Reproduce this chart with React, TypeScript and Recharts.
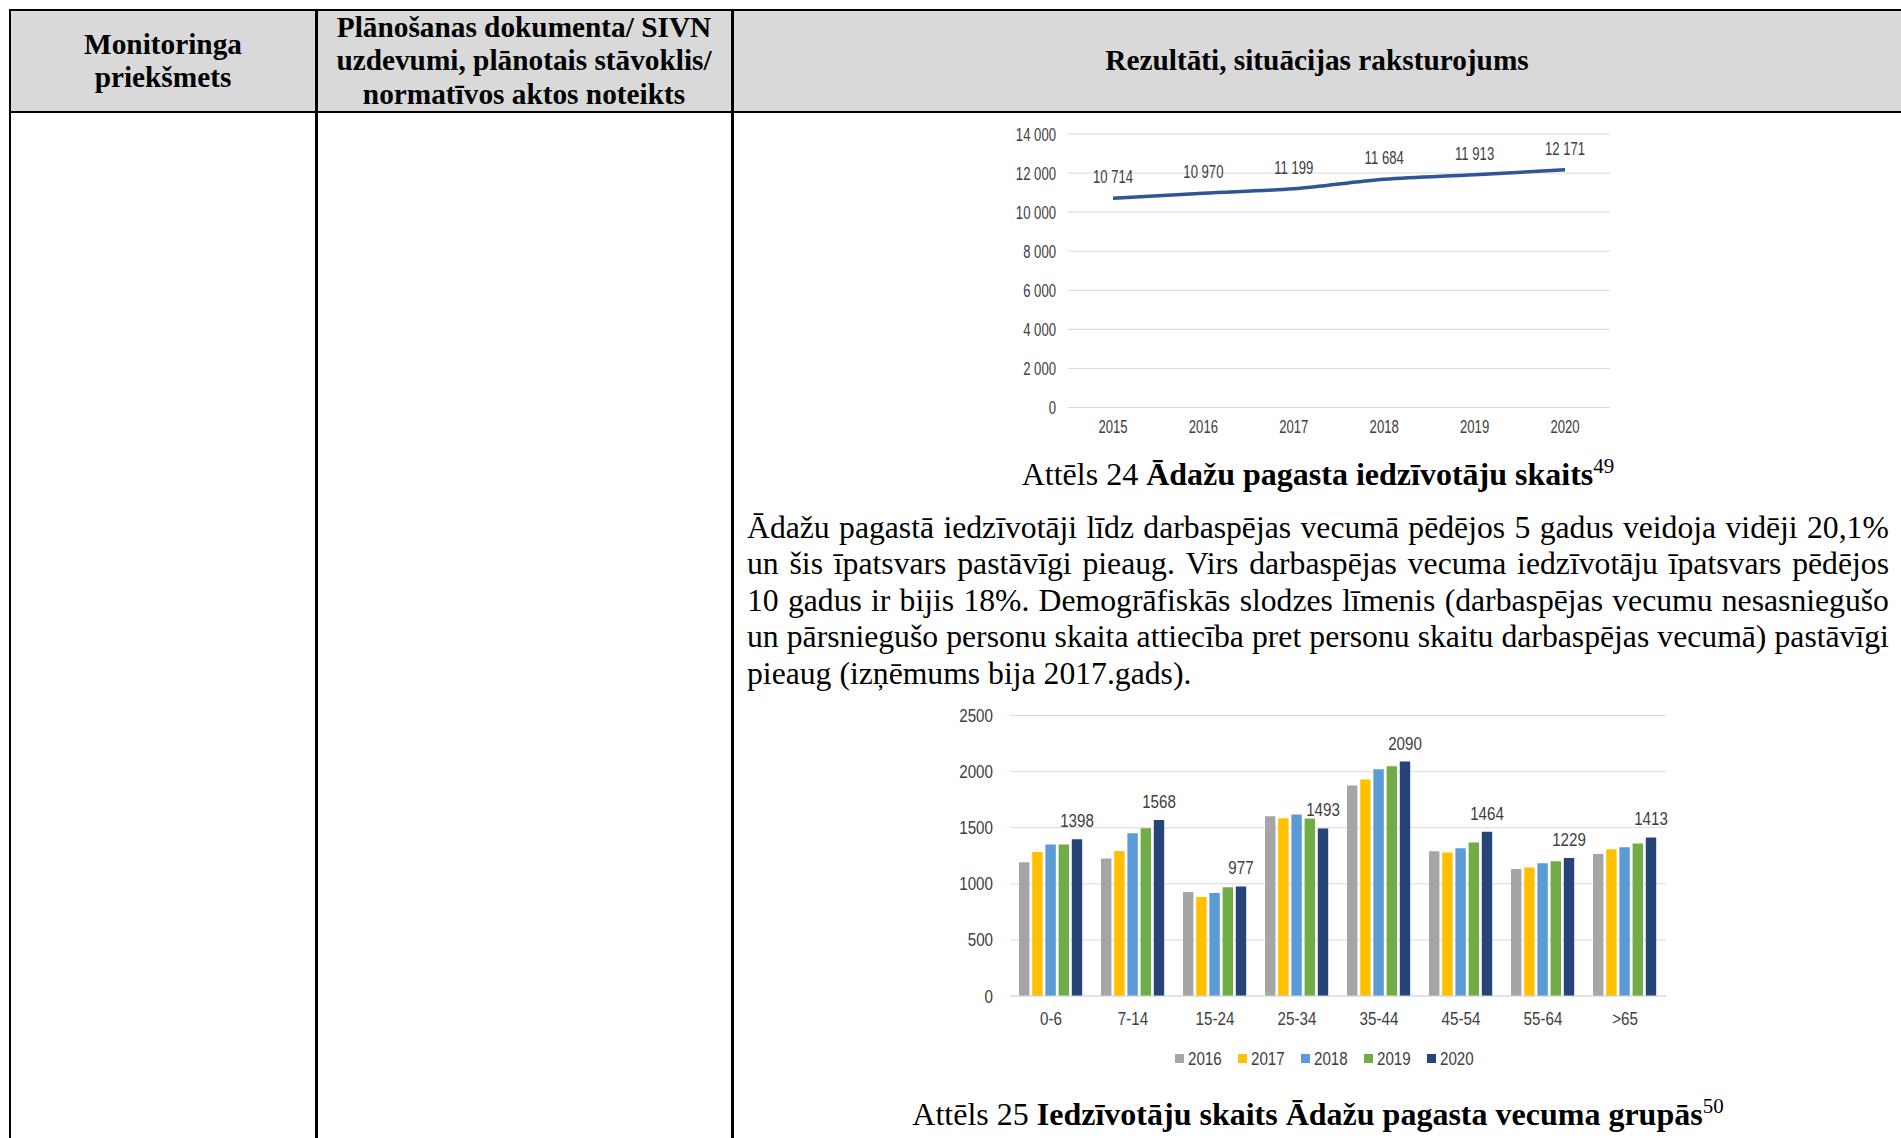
import React from 'react';
import { LineChart, Line, XAxis, YAxis, CartesianGrid, LabelList, BarChart, Bar, Legend } from 'recharts';

// ---- Chart 1: residents of Ādaži parish ----
const years = ['2015', '2016', '2017', '2018', '2019', '2020'];
const residents = [10714, 10970, 11199, 11684, 11913, 12171];
const lineTicks = [0, 2000, 4000, 6000, 8000, 10000, 12000, 14000];

// ---- Chart 2: residents by age group ----
const ageGroups = ['0-6', '7-14', '15-24', '25-34', '35-44', '45-54', '55-64', '>65'];
const v2016 = [1193, 1226, 928, 1602, 1876, 1289, 1131, 1265];
const v2017 = [1283, 1292, 883, 1584, 1930, 1280, 1146, 1307];
const v2018 = [1351, 1450, 919, 1617, 2020, 1316, 1184, 1325];
const v2019 = [1351, 1495, 970, 1581, 2047, 1369, 1202, 1360];
const v2020 = [1398, 1568, 977, 1493, 2090, 1464, 1229, 1413];
const barTicks = [0, 500, 1000, 1500, 2000, 2500];
const barYears = ['2016', '2017', '2018', '2019', '2020'];
const barColors = ['#A5A5A5', '#FFC000', '#5B9BD5', '#70AD47', '#264478'];

const lineData = years.map((y, i) => ({ year: y, v: residents[i] }));
const barSeries = [v2016, v2017, v2018, v2019, v2020];
const barData = ageGroups.map((g, i) => {
  const row: Record<string, string | number> = { group: g };
  barYears.forEach((y, k) => {
    row[y] = barSeries[k][i];
  });
  return row;
});

const SANS = "'Liberation Sans', Arial, sans-serif";
const SERIF = "'Liberation Serif', 'Times New Roman', serif";
const TXT = '#404040';
const GRID = '#D9D9D9';

const fmt = (n: number) => String(n).replace(/\B(?=(\d{3})+(?!\d))/g, ' ');

const paraLines = [
  'Ādažu pagastā iedzīvotāji līdz darbaspējas vecumā pēdējos 5 gadus veidoja vidēji 20,1%',
  'un šis īpatsvars pastāvīgi pieaug. Virs darbaspējas vecuma iedzīvotāju īpatsvars pēdējos',
  '10 gadus ir bijis 18%. Demogrāfiskās slodzes līmenis (darbaspējas vecumu nesasniegušo',
  'un pārsniegušo personu skaita attiecība pret personu skaitu darbaspējas vecumā) pastāvīgi',
  'pieaug (izņēmums bija 2017.gads).',
];

// narrow text: Arial metrics compressed horizontally (like the condensed chart bitmap)
const NText = ({ x, y, text, size, sx, anchor, dy }: { x: number; y: number; text: string; size: number; sx: number; anchor: 'start' | 'middle' | 'end'; dy: string }) => (
  <g transform={`translate(${x},${y}) scale(${sx},1)`}>
    <text x={0} y={0} dy={dy} textAnchor={anchor} fontFamily={SANS} fontSize={size} fill={TXT}>{text}</text>
  </g>
);

const LineXTick = (p: any) => <NText x={p.x} y={p.y} text={String(p.payload.value)} size={18.5} sx={0.71} anchor="middle" dy="0.71em" />;
const LineYTick = (p: any) => <NText x={p.x} y={p.y} text={fmt(Number(p.payload.value))} size={18.5} sx={0.71} anchor="end" dy="0.355em" />;
const LineLabel = (p: any) => <NText x={p.x} y={p.y - 15} text={fmt(Number(p.value))} size={18.5} sx={0.71} anchor="middle" dy="0" />;

const BarXTick = (p: any) => <NText x={p.x} y={p.y} text={String(p.payload.value)} size={18.5} sx={0.82} anchor="middle" dy="0.71em" />;
const BarYTick = (p: any) => <NText x={p.x} y={p.y} text={String(p.payload.value)} size={18.5} sx={0.82} anchor="end" dy="0.355em" />;
const BarLabel = (p: any) => <NText x={Number(p.x) + Number(p.width) / 2} y={Number(p.y) - 12} text={String(p.value)} size={18.5} sx={0.82} anchor="middle" dy="0" />;

const BarLegend = () => (
  <div style={{ display: 'flex', justifyContent: 'center', alignItems: 'center', fontFamily: SANS, fontSize: 18.5, color: TXT, height: 22 }}>
    {barYears.map((y, i) => (
      <div key={y} style={{ display: 'flex', alignItems: 'center', marginRight: i < barYears.length - 1 ? 16 : 0 }}>
        <span style={{ display: 'inline-block', width: 9, height: 9, background: barColors[i], marginRight: 4 }} />
        <span style={{ display: 'inline-block', width: 34, whiteSpace: 'nowrap', lineHeight: '22px' }}>
          <span style={{ display: 'inline-block', transform: 'scaleX(0.82)', transformOrigin: 'left center' }}>{y}</span>
        </span>
      </div>
    ))}
  </div>
);

const abs = (l: number, t: number, w: number, h: number, extra: React.CSSProperties = {}): React.CSSProperties => ({
  position: 'absolute', left: l, top: t, width: w, height: h, ...extra,
});

export default function App() {
  const headerText: React.CSSProperties = {
    fontFamily: SERIF, fontWeight: 'bold', fontSize: 29.3, lineHeight: '33.5px', color: '#000',
    display: 'flex', alignItems: 'center', justifyContent: 'center', textAlign: 'center',
  };
  return (
    <div style={abs(0, 0, 1901, 1138, { background: '#fff', overflow: 'hidden' })}>
      {/* header background */}
      <div style={abs(10, 10, 1891, 102, { background: '#D9D9D9' })} />
      {/* table lines */}
      <div style={abs(9, 9, 1892, 2, { background: '#000' })} />
      <div style={abs(9, 111, 1892, 2, { background: '#000' })} />
      <div style={abs(9, 9, 2, 1129, { background: '#000' })} />
      <div style={abs(315, 9, 2.5, 1129, { background: '#000' })} />
      <div style={abs(731, 9, 2.5, 1129, { background: '#000' })} />

      {/* header texts */}
      <div style={abs(11, 11, 304, 100, headerText)}>Monitoringa<br />priekšmets</div>
      <div style={abs(317, 11, 414, 100, headerText)}>Plānošanas dokumenta/ SIVN<br />uzdevumi, plānotais stāvoklis/<br />normatīvos aktos noteikts</div>
      <div style={abs(733, 11, 1168, 100, headerText)}>Rezultāti, situācijas raksturojums</div>

      {/* Line chart */}
      <div style={abs(990, 110, 640, 330)}>
        <LineChart width={640} height={330} data={lineData} margin={{ top: 24, right: 20, bottom: 0, left: 0 }}>
          <CartesianGrid horizontal vertical={false} stroke={GRID} strokeWidth={1} />
          <XAxis dataKey="year" padding={{ left: 45, right: 45 }} axisLine={false} tickLine={false} tickSize={0} tickMargin={12} height={32.5}
            tick={<LineXTick />} interval={0} />
          <YAxis domain={[0, 14000]} ticks={lineTicks} width={78} axisLine={false} tickLine={false} tickSize={0} tickMargin={12}
            tick={<LineYTick />} />
          <Line type="monotone" dataKey="v" stroke="#2F5597" strokeWidth={3.5} dot={false} isAnimationActive={false}>
            <LabelList dataKey="v" content={<LineLabel />} />
          </Line>
        </LineChart>
      </div>

      {/* Caption 24 */}
      <div style={abs(747, 456, 1142, 37, { fontFamily: SERIF, fontSize: 32, lineHeight: '37px', textAlign: 'center', color: '#000' })}>
        Attēls 24 <b>Ādažu pagasta iedzīvotāju skaits</b><sup style={{ fontSize: 21, lineHeight: 0 }}>49</sup>
      </div>

      {/* Paragraph (justified lines) */}
      <div style={abs(747, 510, 1142, 190, { fontFamily: SERIF, fontSize: 31.7, lineHeight: '36.4px', color: '#000' })}>
        {paraLines.map((l, i) =>
          i < paraLines.length - 1 ? (
            <div key={i} style={{ display: 'flex', justifyContent: 'space-between', height: 36.4, whiteSpace: 'nowrap' }}>
              {l.split(' ').map((w, k) => (
                <span key={k}>{w}</span>
              ))}
            </div>
          ) : (
            <div key={i} style={{ height: 36.4, whiteSpace: 'nowrap' }}>{l}</div>
          )
        )}
      </div>

      {/* Bar chart */}
      <div style={abs(940, 690, 760, 390)}>
        <BarChart width={760} height={390} data={barData} margin={{ top: 25.5, right: 34, bottom: 44, left: 0 }}
          barSize={10.4} barGap={2.8}>
          <CartesianGrid horizontal vertical={false} stroke={GRID} strokeWidth={1} />
          <XAxis dataKey="group" axisLine={{ stroke: GRID }} tickLine={false} tickSize={0} tickMargin={15.5} height={40}
            tick={<BarXTick />} interval={0} />
          <YAxis domain={[0, 2500]} ticks={barTicks} width={70} axisLine={false} tickLine={false} tickSize={0} tickMargin={17}
            tick={<BarYTick />} />
          <Legend layout="horizontal" verticalAlign="middle" align="center" content={<BarLegend />}
            wrapperStyle={{ left: 224, width: 320, top: 357.5 }} />
          {barYears.map((y, i) => (
            <Bar key={y} dataKey={y} fill={barColors[i]} isAnimationActive={false}>
              {i === barYears.length - 1 ? <LabelList dataKey={y} content={<BarLabel />} /> : null}
            </Bar>
          ))}
        </BarChart>
      </div>

      {/* Caption 25 */}
      <div style={abs(747, 1096, 1142, 37, { fontFamily: SERIF, fontSize: 32, lineHeight: '37px', textAlign: 'center', color: '#000' })}>
        Attēls 25 <b>Iedzīvotāju skaits Ādažu pagasta vecuma grupās</b><sup style={{ fontSize: 21, lineHeight: 0 }}>50</sup>
      </div>
    </div>
  );
}
